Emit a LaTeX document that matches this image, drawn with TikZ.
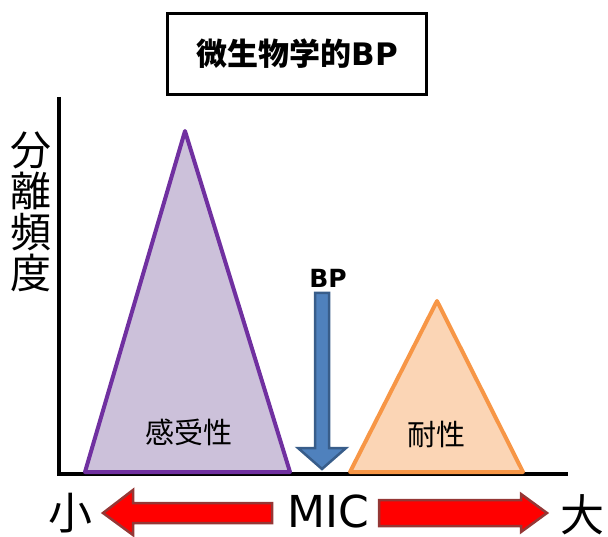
\documentclass[tikz,border=0pt]{standalone}
\usepackage{fontspec}
\setmainfont{Noto Sans CJK JP}
\newfontfamily\latinfont{DejaVu Sans}
\usetikzlibrary{positioning}

\definecolor{suscfill}{HTML}{CCC1DA}
\definecolor{suscline}{HTML}{7030A0}
\definecolor{resfill}{HTML}{FBD5B5}
\definecolor{resline}{HTML}{F79646}
\definecolor{bpfill}{HTML}{4F81BD}
\definecolor{bpline}{HTML}{385D8A}
\definecolor{micline}{HTML}{953735}

\newcommand{\fs}[1]{\fontsize{#1}{#1}\selectfont}

\tikzset{
  axisline/.style={line width=3.5pt},
  susc/.style={fill=suscfill,draw=suscline,line width=4pt,line join=round},
  resist/.style={fill=resfill,draw=resline,line width=4pt,line join=round},
  bparrow/.style={fill=bpfill,draw=bpline,line width=2.5pt,line join=miter},
  micarrow/.style={fill=red,draw=micline,line width=2.5pt,line join=miter},
  lbl/.style={inner sep=0pt,font=\fs{29}}
}

\begin{document}
\begin{tikzpicture}[x=1pt,y=-1pt]
  \useasboundingbox (0,0) rectangle (608,537);

  % title
  \node[draw,line width=3.5pt,minimum width=259pt,minimum height=81pt,inner sep=0pt,
        font=\fs{31}\bfseries] (title) at (297,54) {微生物学的{\latinfont B\kern0.5ptP}};

  % axes
  \coordinate (orig) at (59,474);
  \draw[axisline] (59,97) -- (orig) -- (568,474);
  \node[inner sep=0pt,font=\fs{41},align=center] (ylab) at (31,212)
    {分\\[0pt]離\\[0pt]頻\\[0pt]度};

  % distributions
  \draw[susc] (185,131) -- (290,472) -- (85,472) -- cycle;
  \draw[resist] (437,301) -- (523,472) -- (350,472) -- cycle;
  \node[lbl] (suslab) at (189,432) {感受性};
  \node[lbl] (reslab) at (436,434) {耐性};

  % breakpoint
  \draw[bparrow] (315,293) -- (329,293) -- (329,448) -- (346,448) -- (322,469)
    -- (298,448) -- (315,448) -- cycle;
  \node[inner sep=0pt,font=\latinfont\fs{25}\bfseries] (bp) at (328,278) {BP};

  % MIC scale
  \node[inner sep=0pt,font=\latinfont\fs{44}] (mic) at (328,511) {MIC};
  \node[inner sep=0pt,font=\fs{44}] (small) at (70,513) {小};
  \node[inner sep=0pt,font=\fs{44}] (large) at (582,515) {大};
  \draw[micarrow] (272,503) -- (133,503) -- (133,490) -- (103,513) -- (133,535)
    -- (133,523) -- (272,523) -- cycle;
  \draw[micarrow] (379,500) -- (521,500) -- (521,494) -- (547,513) -- (521,532)
    -- (521,526) -- (379,526) -- cycle;
\end{tikzpicture}
\end{document}
